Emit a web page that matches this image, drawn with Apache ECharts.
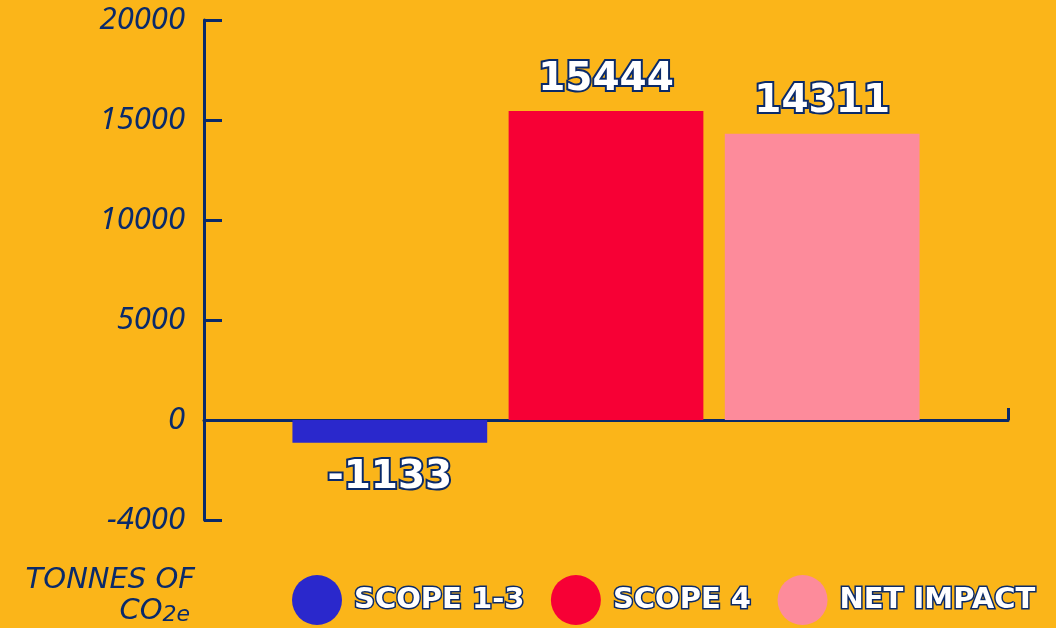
<!DOCTYPE html>
<html>
<head>
<meta charset="utf-8">
<script src="https://cdn.jsdelivr.net/npm/echarts@6/dist/echarts.min.js"></script>
<style>
  html, body { margin: 0; padding: 0; background: #fbb519; }
  #main { width: 1056px; height: 628px; }
</style>
</head>
<body>
<div id="main"></div>
<script>
const categories = ["CO2e"];
const seriesNames = ["SCOPE 1-3", "SCOPE 4", "NET IMPACT"];
const seriesValues = [-1133, 15444, 14311];
const seriesColors = ["#2a28cc", "#f70035", "#fd8b9b"];
// tick values on the axis and the text printed next to them
const yTickValues = [-5000, 0, 5000, 10000, 15000, 20000];
const yTickLabels = ["-4000", "0", "5000", "10000", "15000", "20000"];

const navy = "#0a2a6a";
const chartContainer = echarts.init(document.getElementById("main"));

const heavyLabel = {
  fontFamily: "DejaVu Sans",
  fontWeight: "bold",
  color: "#ffffff",
  textBorderColor: navy,
  textBorderWidth: 4,
  textShadowColor: navy,
  textShadowBlur: 0,
  textShadowOffsetX: 3,
  textShadowOffsetY: 3,
};

const series = seriesNames.map((name, i) => ({
  name: name,
  type: "bar",
  data: [seriesValues[i]],
  barGap: "11%",
  barCategoryGap: "22%",
  itemStyle: { color: seriesColors[i] },
  label: Object.assign({}, heavyLabel, {
    show: true,
    position: seriesValues[i] < 0 ? "bottom" : "top",
    distance: seriesValues[i] < 0 ? 16 : 12,
    fontSize: 39,
  }),
}));

option = {
  backgroundColor: "#fbb519",
  animation: false,
  grid: { left: 204, right: 48, top: 20, bottom: 108 },
  xAxis: {
    type: "category",
    data: categories,
    axisLine: { lineStyle: { color: navy, width: 3 } },
    axisTick: { show: true, inside: true, length: 12, lineStyle: { color: navy, width: 3 } },
    axisLabel: { show: false },
  },
  yAxis: {
    type: "value",
    min: -5000,
    max: 20000,
    interval: 5000,
    splitLine: { show: false },
    axisLine: { show: true, onZero: false, lineStyle: { color: navy, width: 3 } },
    axisTick: { show: true, inside: true, length: 18, lineStyle: { color: navy, width: 3 } },
    axisLabel: {
      margin: 19,
      fontSize: 31,
      fontStyle: "italic",
      fontFamily: "Noto Sans",
      color: navy,
      formatter: (v) => yTickLabels[yTickValues.indexOf(v)],
    },
  },
  legend: {
    left: 287,
    top: 570,
    icon: "circle",
    itemWidth: 50,
    itemHeight: 50,
    itemGap: 25,
    textStyle: Object.assign({}, heavyLabel, {
      fontSize: 29,
      textBorderWidth: 3,
      padding: [0, 0, 0, 7],
    }),
  },
  graphic: [
    {
      type: "text",
      right: 861,
      top: 566,
      style: {
        text: "TONNES OF",
        font: "italic 29px 'DejaVu Sans', sans-serif",
        fill: navy,
      },
    },
    {
      type: "text",
      right: 866,
      top: 597,
      style: {
        text: "{a|CO}{b|2e}",
        rich: {
          a: { fontSize: 29, fontStyle: "italic", fontFamily: "DejaVu Sans", fill: navy, verticalAlign: "bottom" },
          b: { fontSize: 22, fontStyle: "italic", fontFamily: "DejaVu Sans", fill: navy, verticalAlign: "bottom" },
        },
      },
    },
  ],
  series: series,
};

chartContainer.setOption(option);
</script>
</body>
</html>
